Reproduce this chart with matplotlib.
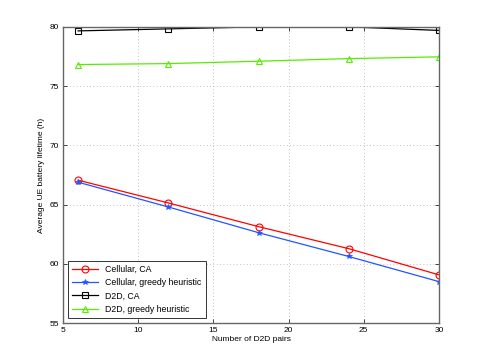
import matplotlib
matplotlib.use("Agg")
import matplotlib.pyplot as plt

# values
pairs = [6, 12, 18, 24, 30]
cellular_ca = [67.06, 65.14, 63.14, 61.28, 59.07]
cellular_greedy = [66.89, 64.80, 62.63, 60.62, 58.50]
d2d_ca = [79.66, 79.83, 80.0, 80.0, 79.70]
d2d_greedy = [76.82, 76.90, 77.10, 77.32, 77.47]

x_ticks = [5, 10, 15, 20, 25, 30]
y_ticks = [55, 60, 65, 70, 75, 80]

plt.rcParams["font.family"] = ["Liberation Sans", "DejaVu Sans"]
plt.rcParams["font.size"] = 6

fig = plt.figure(figsize=(4.85, 3.63), dpi=100)
ax = fig.add_axes([0.13, 0.110, 0.775, 0.816])

ax.plot(pairs, cellular_ca, color="#ff0000", linewidth=0.9, marker="o",
        markersize=5, markerfacecolor="none", markeredgewidth=0.8, label="Cellular, CA")
ax.plot(pairs, cellular_greedy, color="#2255ff", linewidth=0.9, marker="*",
        markersize=3.8, markeredgewidth=0.5, label="Cellular, greedy heuristic")
ax.plot(pairs, d2d_ca, color="#000000", linewidth=0.9, marker="s",
        markersize=4, markerfacecolor="none", markeredgewidth=0.8, label="D2D, CA")
ax.plot(pairs, d2d_greedy, color="#55ee00", linewidth=0.9, marker="^",
        markersize=5, markerfacecolor="none", markeredgewidth=0.8,
        label="D2D, greedy heuristic")

ax.set_xlim(5, 30)
ax.set_ylim(55, 80)
ax.set_xticks(x_ticks)
ax.set_yticks(y_ticks)
ax.grid(True, linestyle=(0, (1, 3)), color="#b0b0b0", linewidth=0.6)
ax.tick_params(direction="in", length=3, width=0.5, top=True, right=True, pad=3)
for sp in ax.spines.values():
    sp.set_color("#666666")
    sp.set_linewidth(1.0)

ax.set_xlabel("Number of D2D pairs", labelpad=1)
ax.set_ylabel("Average UE battery lifetime (h)", labelpad=3)

leg = ax.legend(loc="lower left", fancybox=False, edgecolor="#333333",
                framealpha=1, borderaxespad=0.6, handlelength=3.0,
                labelspacing=0.5, borderpad=0.45, fontsize=6.3)
leg.get_frame().set_linewidth(0.7)

fig.savefig("out.png", dpi=100)
